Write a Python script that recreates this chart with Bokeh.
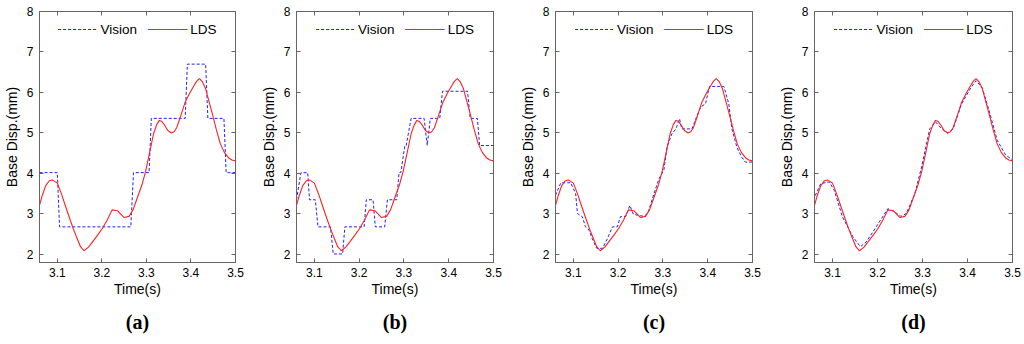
from bokeh.plotting import figure
from bokeh.layouts import row
from bokeh.models import FixedTicker, LinearAxis, Legend, Range1d
from bokeh.embed import file_html
from bokeh.resources import INLINE

# ---------------- data ----------------
x_ticks = [3.1, 3.2, 3.3, 3.4, 3.5]
y_ticks = [2, 3, 4, 5, 6, 7, 8]
captions = ["(a)", "(b)", "(c)", "(d)"]

# LDS (same in all panels)
lds_t = [3.057, 3.066, 3.074, 3.082, 3.089, 3.100, 3.110, 3.119, 3.128, 3.137, 3.145,
         3.152, 3.160, 3.170, 3.179, 3.190, 3.201, 3.212, 3.223, 3.235, 3.250, 3.261,
         3.270, 3.279, 3.290, 3.298, 3.307, 3.316, 3.323, 3.329, 3.335, 3.341, 3.348,
         3.356, 3.362, 3.368, 3.377, 3.387, 3.397, 3.407, 3.413, 3.419, 3.426, 3.433,
         3.440, 3.448, 3.457, 3.466, 3.475, 3.485, 3.492, 3.500]
lds_y = [3.09, 3.45, 3.70, 3.82, 3.84, 3.76, 3.47, 3.17, 2.88, 2.60, 2.38,
         2.19, 2.09, 2.18, 2.31, 2.47, 2.64, 2.85, 3.10, 3.08, 2.91, 2.94,
         3.10, 3.38, 3.72, 4.04, 4.50, 4.98, 5.20, 5.31, 5.28, 5.19, 5.06,
         5.00, 5.03, 5.13, 5.42, 5.76, 5.98, 6.17, 6.28, 6.34, 6.26, 6.09,
         5.80, 5.47, 5.08, 4.73, 4.52, 4.38, 4.33, 4.31]

# Vision, panel (a)
vis_a_t = [3.060, 3.100, 3.105, 3.265, 3.271, 3.306, 3.311, 3.387, 3.392,
           3.433, 3.438, 3.474, 3.479, 3.500]
vis_a_y = [4.02, 4.02, 2.68, 2.68, 4.02, 4.02, 5.36, 5.36, 6.70,
           6.70, 5.36, 5.36, 4.02, 4.02]

# Vision, panel (b)
vis_b_t = [3.060, 3.070, 3.085, 3.089, 3.102, 3.108, 3.136, 3.142, 3.163, 3.168,
           3.211, 3.216, 3.231, 3.236, 3.257, 3.263, 3.284, 3.289, 3.293, 3.302,
           3.305, 3.316, 3.345, 3.352, 3.359, 3.380, 3.386, 3.442, 3.448, 3.464,
           3.469, 3.500]
vis_b_y = [3.35, 4.02, 4.02, 3.35, 3.35, 2.68, 2.68, 2.01, 2.01, 2.68,
           2.68, 3.35, 3.35, 2.68, 2.68, 3.35, 3.35, 4.02, 4.02, 4.69,
           4.69, 5.36, 5.36, 4.69, 5.36, 5.36, 6.03, 6.03, 5.36, 5.36,
           4.69, 4.69]

# Vision, panel (c)
vis_c_t = [3.060, 3.072, 3.094, 3.105, 3.109, 3.120, 3.127, 3.135, 3.142, 3.152,
           3.165, 3.176, 3.187, 3.198, 3.205, 3.217, 3.226, 3.234, 3.243, 3.257,
           3.266, 3.280, 3.291, 3.302, 3.309, 3.320, 3.329, 3.337, 3.342, 3.365,
           3.372, 3.384, 3.395, 3.404, 3.436, 3.447, 3.454, 3.465, 3.476, 3.484,
           3.500]
vis_c_y = [3.46, 3.77, 3.77, 3.50, 3.01, 2.93, 2.68, 2.60, 2.39, 2.15,
           2.15, 2.39, 2.68, 2.68, 2.93, 2.94, 3.21, 2.99, 2.97, 2.94,
           3.01, 3.50, 3.87, 4.08, 4.65, 4.98, 5.10, 5.35, 5.10, 5.10,
           5.31, 5.64, 5.72, 6.15, 6.15, 5.72, 5.10, 4.65, 4.40, 4.28,
           4.28]

# Vision, panel (d)
vis_d_t = [3.057, 3.074, 3.093, 3.104, 3.122, 3.145, 3.162, 3.175, 3.197, 3.223,
           3.238, 3.252, 3.264, 3.283, 3.298, 3.316, 3.329, 3.343, 3.356, 3.368,
           3.387, 3.407, 3.419, 3.433, 3.448, 3.466, 3.485, 3.500]
vis_d_y = [3.34, 3.75, 3.79, 3.58, 2.93, 2.44, 2.19, 2.31, 2.68, 3.13,
           3.05, 2.94, 3.01, 3.50, 4.16, 5.10, 5.27, 5.10, 5.00, 5.10,
           5.72, 6.11, 6.29, 6.11, 5.55, 4.82, 4.45, 4.34]

vision_t = [vis_a_t, vis_b_t, vis_c_t, vis_d_t]
vision_y = [vis_a_y, vis_b_y, vis_c_y, vis_d_y]

# ---------------- layout ----------------
fig_w = [257, 259, 259, 249]
left_b = [38, 38, 38, 38]
right_b = [22, 23, 23, 12]

AX = "#666666"
FONT = "Liberation Sans"
BLUE = "#1f1fff"
RED = "#ff2020"


def style_axis(ax, show_labels):
    ax.axis_line_color = AX
    ax.major_tick_line_color = AX
    ax.major_tick_in = 4
    ax.major_tick_out = 0
    ax.minor_tick_line_color = None
    if show_labels:
        ax.major_label_text_font = FONT
        ax.major_label_text_font_size = "12px"
        ax.major_label_text_color = "black"
        ax.axis_label_text_font = FONT
        ax.axis_label_text_font_size = "14px"
        ax.axis_label_text_font_style = "normal"
        ax.axis_label_text_color = "black"
    else:
        ax.major_label_text_color = None
        ax.major_label_standoff = 0


plots = []
for i in range(4):
    p = figure(width=fig_w[i], height=344,
               min_border_left=left_b[i], min_border_right=right_b[i],
               min_border_top=11, min_border_bottom=82,
               x_range=Range1d(3.06, 3.5), y_range=Range1d(1.8, 8),
               title=captions[i], title_location="below",
               output_backend="svg", toolbar_location=None)
    p.grid.visible = False
    p.outline_line_color = AX
    p.background_fill_color = "white"

    p.xaxis.ticker = FixedTicker(ticks=x_ticks)
    p.yaxis.ticker = FixedTicker(ticks=y_ticks)
    p.xaxis.axis_label = "Time(s)"
    p.yaxis.axis_label = "Base Disp.(mm)"
    style_axis(p.xaxis[0], True)
    style_axis(p.yaxis[0], True)
    p.xaxis.major_label_standoff = 5
    p.xaxis.axis_label_standoff = 1
    p.yaxis.major_label_standoff = 6
    p.yaxis.axis_label_standoff = 4

    top = LinearAxis(ticker=FixedTicker(ticks=x_ticks))
    style_axis(top, False)
    p.add_layout(top, "above")
    rgt = LinearAxis(ticker=FixedTicker(ticks=y_ticks))
    style_axis(rgt, False)
    p.add_layout(rgt, "right")

    r1 = p.line(vision_t[i], vision_y[i], line_color=BLUE, line_width=1,
                line_dash="3 2")
    r2 = p.line(lds_t, lds_y, line_color=RED, line_width=1.1)

    leg = Legend(items=[("Vision", [r1]), ("LDS", [r2])],
                 location="top_center", orientation="horizontal",
                 border_line_color=None, background_fill_color=None,
                 glyph_width=40, glyph_height=20, label_standoff=3,
                 spacing=10, margin=8, padding=0,
                 label_text_font=FONT, label_text_font_size="13.5px",
                 label_text_color="black")
    p.add_layout(leg)

    p.title.align = "center"
    p.title.text_font = "Liberation Serif"
    p.title.text_font_style = "bold"
    p.title.text_font_size = "20px"
    p.title.text_color = "black"
    p.title.standoff = 18
    plots.append(p)

layout = row(*plots, spacing=0)
open("out.html", "w").write(file_html(layout, INLINE))
